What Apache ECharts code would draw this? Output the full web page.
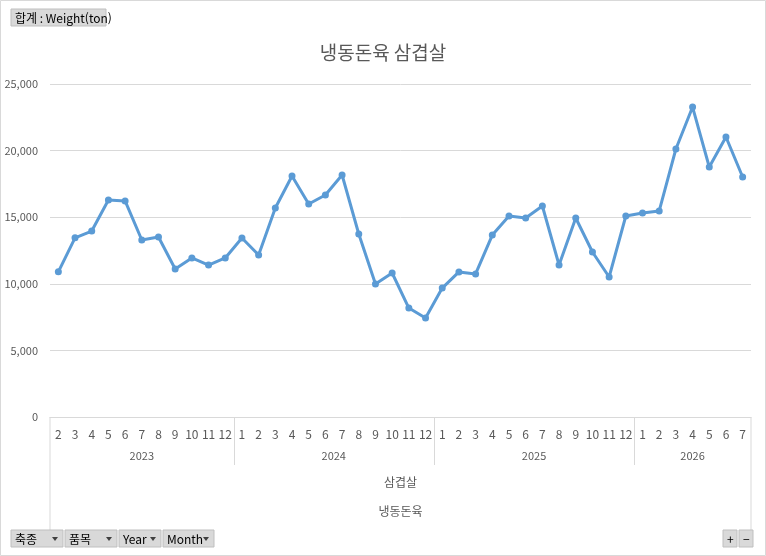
<!DOCTYPE html>
<html lang="ko">
<head>
<meta charset="UTF-8">
<title>냉동돈육 삼겹살</title>
<script src="https://cdn.jsdelivr.net/npm/echarts@6/dist/echarts.min.js"></script>
<style>body{margin:0;background:#fff}</style>
</head>
<body>
<div id="main" style="width:766px;height:556px"></div>
<script>
// 연/월 구분
var years = ['2023', '2024', '2025', '2026'];
var monthsPerYear = [
    [2, 3, 4, 5, 6, 7, 8, 9, 10, 11, 12],
    [1, 2, 3, 4, 5, 6, 7, 8, 9, 10, 11, 12],
    [1, 2, 3, 4, 5, 6, 7, 8, 9, 10, 11, 12],
    [1, 2, 3, 4, 5, 6, 7]
];
// Weight(ton)
var weights = [
    10900, 13450, 13960, 16290, 16220, 13290, 13510, 11110, 11940, 11410, 11940,
    13440, 12160, 15690, 18090, 15990, 16670, 18170, 13740, 9980, 10810, 8180, 7430,
    9680, 10890, 10740, 13660, 15090, 14940, 15840, 11410, 14940, 12390, 10510, 15090,
    15320, 15470, 20120, 23270, 18770, 21020, 18020
];
var yTicks = [0, 5000, 10000, 15000, 20000, 25000];

var months = [];
monthsPerYear.forEach(function (ms) { ms.forEach(function (m) { months.push(String(m)); }); });

var font = '"Malgun Gothic","Noto Sans CJK KR",sans-serif';
var chart = echarts.init(document.getElementById('main'));
var L = 50, R = 751, T = 84, B = 417;

var option = {
    animation: false,
    backgroundColor: '#fff',
    title: {
        text: '냉동돈육 삼겹살', left: 'center', top: 38,
        textStyle: { color: '#595959', fontSize: 19, fontWeight: 'normal', fontFamily: font }
    },
    grid: { left: L, right: 766 - R, top: T, bottom: 556 - B },
    xAxis: {
        type: 'category', data: months, boundaryGap: true,
        axisLine: { lineStyle: { color: '#d9d9d9' } },
        axisTick: { show: false },
        axisLabel: { color: '#595959', fontSize: 12, margin: 11, interval: 0, fontFamily: font }
    },
    yAxis: {
        type: 'value', min: yTicks[0], max: yTicks[yTicks.length - 1], interval: 5000,
        axisLine: { show: false }, axisTick: { show: false },
        axisLabel: { color: '#595959', fontSize: 11, margin: 12, fontFamily: font },
        splitLine: { lineStyle: { color: '#d9d9d9' } }
    },
    series: [{
        type: 'line', data: weights,
        lineStyle: { color: '#5b9bd5', width: 3 },
        itemStyle: { color: '#5b9bd5' },
        symbol: 'circle', symbolSize: 7
    }]
};
chart.setOption(option);

// 다단계 축 레이블 + 피벗 버튼
var g = [];
g.push({ type: 'rect', shape: { x: 0.5, y: 0.5, width: 765, height: 555 }, style: { fill: 'none', stroke: '#d9d9d9' } });
function vline(x, y1, y2) {
    g.push({ type: 'line', shape: { x1: x, y1: y1, x2: x, y2: y2 }, style: { stroke: '#d9d9d9', lineWidth: 1 } });
}
vline(L, B, 537); vline(R, B, 537);
var idx = 0;
years.forEach(function (y, i) {
    var n = monthsPerYear[i].length;
    var x0 = chart.convertToPixel({ xAxisIndex: 0 }, idx) - (R - L) / weights.length / 2;
    var x1 = chart.convertToPixel({ xAxisIndex: 0 }, idx + n - 1) + (R - L) / weights.length / 2;
    if (i > 0) vline(Math.round(x0) + 0.5, B, 465);
    g.push({ type: 'text', x: (x0 + x1) / 2, y: 456, style: { text: y, fill: '#595959', fontSize: 11, align: 'center', verticalAlign: 'middle', fontFamily: font } });
    idx += n;
});
g.push({ type: 'text', x: (L + R) / 2, y: 482, style: { text: '삼겹살', fill: '#595959', fontSize: 12, align: 'center', verticalAlign: 'middle', fontFamily: font } });
g.push({ type: 'text', x: (L + R) / 2, y: 511, style: { text: '냉동돈육', fill: '#595959', fontSize: 12, align: 'center', verticalAlign: 'middle', fontFamily: font } });
function button(x, y, w, label, arrow) {
    g.push({ type: 'rect', shape: { x: x, y: y, width: w, height: 17 }, style: { fill: '#d9d9d9', stroke: '#bfbfbf' } });
    g.push({ type: 'text', x: x + 4, y: y + 9, style: { text: label, fill: '#000', fontSize: 12, verticalAlign: 'middle', fontFamily: font } });
    if (arrow) g.push({ type: 'polygon', shape: { points: [[x + w - 11, y + 7], [x + w - 5, y + 7], [x + w - 8, y + 11]] }, style: { fill: '#404040' } });
}
button(11, 9, 95, '합계 : Weight(ton)', false);
button(11, 530, 52, '축종', true);
button(65, 530, 52, '품목', true);
button(119, 530, 42, 'Year', true);
button(163, 530, 51, 'Month', true);
button(723, 530, 14, '+', false);
button(739, 530, 14, '−', false);
chart.setOption({ graphic: g });
</script>
</body>
</html>
